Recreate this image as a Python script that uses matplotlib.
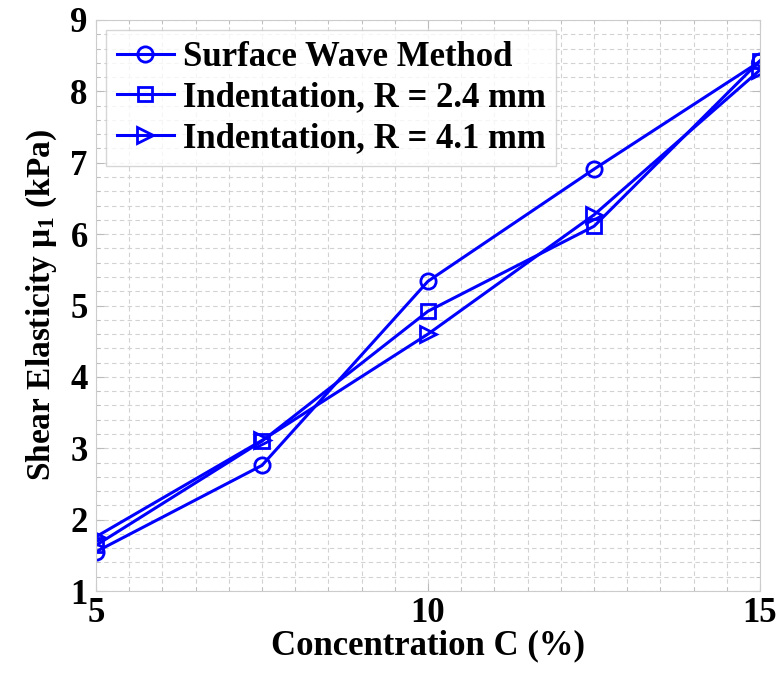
import matplotlib.pyplot as plt
import numpy as np
from matplotlib.ticker import MultipleLocator

# data
conc = [5, 7.5, 10, 12.5, 15]
surface_wave = [1.55, 2.76, 5.34, 6.91, 8.42]
indent_24 = [1.64, 3.10, 4.92, 6.11, 8.43]
indent_41 = [1.76, 3.11, 4.60, 6.27, 8.30]
labels = ['Surface Wave Method', 'Indentation, R = 2.4 mm', 'Indentation, R = 4.1 mm']

plt.rcParams['font.family'] = ['Liberation Serif', 'DejaVu Serif']
plt.rcParams['font.weight'] = 'bold'
plt.rcParams['mathtext.fontset'] = 'custom'
plt.rcParams['mathtext.rm'] = 'Liberation Serif:bold'
plt.rcParams['mathtext.it'] = 'Liberation Serif:bold'

fig = plt.figure(figsize=(7.83, 6.75), dpi=100)
ax = fig.add_axes([96 / 783, 84 / 675, 664 / 783, 571 / 675])

blue = '#0000ff'
ax.plot(conc, surface_wave, color=blue, lw=2.2, marker='o', ms=11, mfc='none', mew=2, label=labels[0])
ax.plot(conc, indent_24, color=blue, lw=2.2, marker='s', ms=10, mfc='none', mew=2, label=labels[1])
ax.plot(conc, indent_41, color=blue, lw=2.2, marker='>', ms=11, mfc='none', mew=2, label=labels[2])

ax.set_xlim(5, 15)
ax.set_ylim(1, 9)
ax.set_xticks([5, 10, 15])
ax.set_yticks(np.arange(1, 10))
ax.xaxis.set_minor_locator(MultipleLocator(0.5))
ax.yaxis.set_minor_locator(MultipleLocator(0.2))

# MATLAB-like dashed light grid, ticks on all four sides
ax.grid(which='both', color='#d2d2d2', linestyle=(0, (4, 3)), linewidth=0.8)
ax.set_axisbelow(True)
ax.tick_params(which='both', direction='in', color='#bbbbbb', labelsize=25,
               top=True, right=True)
ax.tick_params(which='major', length=6)
ax.tick_params(which='minor', length=3)
ax.tick_params(axis='x', pad=4)
ax.tick_params(axis='y', pad=6)
for s in ax.spines.values():
    s.set_color('#cccccc')

ax.set_xlabel('Concentration C (%)', fontsize=25, fontweight='bold', labelpad=0)
ax.set_ylabel(r'Shear Elasticity $\mu_1$ (kPa)', fontsize=24, fontweight='bold', labelpad=8)

leg = ax.legend(loc='upper left', fontsize=25, fancybox=False, edgecolor='#cccccc',
                handlelength=1.65, handletextpad=0.25, borderpad=0.3, labelspacing=0.22,
                borderaxespad=0.3)
leg.get_frame().set_linewidth(1)

plt.savefig('out.png', dpi=100)
